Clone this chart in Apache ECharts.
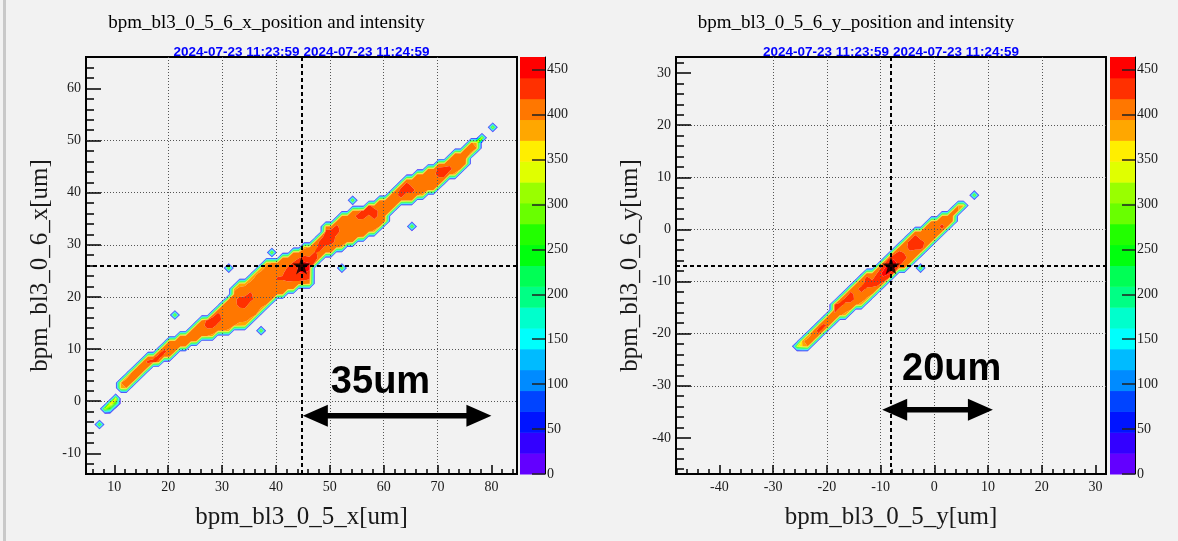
<!DOCTYPE html>
<html>
<head>
<meta charset="utf-8">
<title>bpm_bl3_0_5_6 position and intensity</title>
<script src="https://cdn.jsdelivr.net/npm/echarts@6.0.0/dist/echarts.min.js"></script>
<style>
  html, body { margin: 0; padding: 0; background: #f2f2f2; }
  #chart { width: 1178px; height: 541px; }
</style>
</head>
<body>
<div id="chart"></div>
<script>
// ---------------------------------------------------------------------------
// Text
const plotTitles = ['bpm_bl3_0_5_6_x_position and intensity', 'bpm_bl3_0_5_6_y_position and intensity'];
const timeWindow = '2024-07-23 11:23:59 2024-07-23 11:24:59';
const xTitles = ['bpm_bl3_0_5_x[um]', 'bpm_bl3_0_5_y[um]'];
const yTitles = ['bpm_bl3_0_6_x[um]', 'bpm_bl3_0_6_y[um]'];

// Histogram ranges (80 x 80 bins of 1 um, centred on the mean beam position)
const nBins = 80;
const xRangeX = [4.75, 84.75];
const yRangeX = [-13.97, 66.03];
const xRangeY = [-48.06, 31.94];
const yRangeY = [-46.93, 33.07];
const meanX = [44.75, 26.03];
const meanY = [-8.06, -6.93];

// Tick labels
const xTicksX = [10, 20, 30, 40, 50, 60, 70, 80];
const yTicksX = [-10, 0, 10, 20, 30, 40, 50, 60];
const xTicksY = [-40, -30, -20, -10, 0, 10, 20, 30];
const yTicksY = [-40, -30, -20, -10, 0, 10, 20, 30];
const zTicks = [0, 50, 100, 150, 200, 250, 300, 350, 400, 450];

// Intensity scale: 20 contour levels from 0 to zMax
const zMax = 464;
const levelColors = ['#6300ff', '#3300ff', '#0014ff', '#0044ff', '#008bff', '#00bbff', '#00fffc',
  '#00ffcc', '#00ff85', '#00ff55', '#00ff0e', '#22ff00', '#69ff00', '#99ff00', '#e0ff00',
  '#ffee00', '#ffa700', '#ff7700', '#ff3000', '#ff0000'];

// Bin contents, one entry per run of filled bins: [x bin, first y bin, contents]
const binsX = [
  [2, 9, [320]],
  [3, 12, [330]],
  [4, 12, [250, 370]],
  [5, 13, [260, 360]],
  [6, 16, [380, 395]],
  [7, 16, [395, 405, 390]],
  [8, 17, [400, 410, 395]],
  [9, 18, [400, 408, 400]],
  [10, 19, [400, 410, 405]],
  [11, 20, [395, 425, 400]],
  [12, 21, [430, 405]],
  [13, 21, [405, 430, 400]],
  [14, 22, [405, 428, 395]],
  [15, 22, [395, 408, 410, 400]],
  [16, 23, [405, 410, 400]],
  [16, 30, [320]],
  [17, 24, [408, 410, 400]],
  [18, 24, [400, 410, 405]],
  [19, 25, [405, 412, 400]],
  [20, 25, [395, 410, 408, 400]],
  [21, 26, [400, 410, 405, 395]],
  [22, 26, [395, 408, 430, 425]],
  [23, 26, [390, 405, 430, 435, 405]],
  [24, 27, [400, 410, 428, 430, 400]],
  [25, 27, [395, 408, 410, 405, 400, 395]],
  [26, 27, [390, 405, 410, 408, 410, 405, 395]],
  [26, 39, [320]],
  [27, 28, [395, 405, 410, 412, 405, 410, 400, 390]],
  [28, 28, [385, 400, 408, 410, 430, 428, 405, 400, 385]],
  [29, 28, [380, 400, 405, 410, 435, 430, 410, 400, 390]],
  [30, 29, [390, 400, 410, 405, 428, 425, 408, 400, 385]],
  [31, 30, [395, 405, 410, 408, 405, 412, 405, 400, 390]],
  [32, 31, [390, 400, 405, 410, 408, 410, 405, 400, 385]],
  [32, 27, [320]],
  [33, 32, [395, 405, 410, 408, 412, 410, 405, 400, 390]],
  [34, 33, [400, 408, 405, 410, 408, 405, 400, 395]],
  [34, 42, [320]],
  [35, 34, [400, 410, 412, 420, 410, 405, 395]],
  [36, 34, [395, 405, 412, 420, 415, 410, 405, 395]],
  [37, 35, [400, 412, 425, 430, 420, 410, 400]],
  [38, 35, [400, 410, 425, 435, 430, 420, 405, 395]],
  [39, 36, [410, 425, 440, 445, 435, 415, 400]],
  [40, 36, [405, 425, 440, 450, 445, 425, 405, 390]],
  [41, 36, [400, 420, 435, 445, 440, 420, 405, 395]],
  [42, 40, [415, 430, 420, 408, 395]],
  [43, 41, [405, 412, 430, 428, 400]],
  [44, 42, [400, 410, 432, 435, 428, 395]],
  [45, 42, [395, 405, 428, 435, 430, 400]],
  [46, 43, [400, 410, 412, 430, 425, 395]],
  [47, 43, [390, 405, 410, 408, 405, 400, 395]],
  [47, 39, [320]],
  [48, 44, [400, 408, 410, 412, 405, 400]],
  [49, 44, [395, 405, 410, 412, 408, 405, 395]],
  [49, 52, [320]],
  [50, 45, [400, 410, 405, 410, 430, 400]],
  [51, 45, [395, 405, 412, 408, 432, 428]],
  [52, 46, [400, 410, 408, 412, 435, 425]],
  [53, 46, [390, 405, 410, 430, 432, 400]],
  [54, 47, [395, 408, 410, 410, 405, 395]],
  [55, 48, [400, 410, 408, 405, 400]],
  [56, 50, [405, 410, 408, 400]],
  [57, 51, [400, 412, 410, 395]],
  [58, 52, [405, 430, 428, 400]],
  [59, 52, [395, 405, 432, 430, 400]],
  [60, 52, [400, 410, 428, 410, 395]],
  [60, 47, [320]],
  [61, 53, [395, 408, 412, 405, 400]],
  [62, 53, [390, 405, 410, 408, 395]],
  [63, 54, [400, 410, 405, 412, 400]],
  [64, 54, [395, 405, 410, 410, 400]],
  [65, 55, [400, 408, 430, 428, 395]],
  [66, 56, [405, 432, 430, 400]],
  [67, 57, [400, 428, 410, 395]],
  [68, 57, [390, 405, 410, 408, 400]],
  [69, 58, [400, 410, 408, 395]],
  [70, 59, [395, 405, 410, 400]],
  [71, 61, [390, 408, 400]],
  [72, 62, [395, 380]],
  [73, 64, [340]],
  [75, 66, [330]]
];

const binsY = [
  [22, 24, [330]],
  [23, 24, [370, 390]],
  [24, 24, [395, 405, 380]],
  [25, 25, [400, 410, 395]],
  [26, 26, [405, 430, 400]],
  [27, 27, [400, 428, 395]],
  [28, 28, [405, 410, 400]],
  [29, 29, [395, 410, 430, 425]],
  [30, 30, [400, 408, 430, 395]],
  [31, 30, [385, 405, 410, 428, 395]],
  [32, 31, [395, 408, 430, 432, 400]],
  [33, 32, [400, 410, 405, 412, 395]],
  [34, 32, [385, 405, 410, 430, 405, 395]],
  [35, 33, [390, 405, 412, 432, 428, 400]],
  [36, 34, [400, 410, 430, 412, 395]],
  [37, 35, [405, 425, 435, 420, 400]],
  [38, 36, [410, 435, 450, 430, 405]],
  [39, 37, [420, 445, 460, 440, 410]],
  [40, 38, [420, 450, 455, 435, 405]],
  [41, 39, [410, 430, 440, 425, 400]],
  [42, 39, [395, 410, 425, 415, 405, 395]],
  [43, 40, [400, 408, 412, 430, 428, 395]],
  [44, 41, [395, 405, 430, 435, 428, 400]],
  [45, 42, [400, 432, 430, 405, 395]],
  [45, 39, [320]],
  [46, 43, [405, 412, 410, 410, 400]],
  [47, 44, [395, 408, 410, 405, 395]],
  [48, 45, [400, 410, 408, 400]],
  [49, 46, [405, 428, 405, 395]],
  [50, 47, [400, 410, 400]],
  [51, 48, [395, 405, 400]],
  [52, 50, [400, 395]],
  [53, 51, [380]],
  [55, 53, [320]]
];

// Beam size annotations
const spanLabels = ['35um', '20um'];
const spanFrom = [45, -9.7];
const spanTo = [80, 10.9];
const spanLevel = [-2.8, -34.6];
const spanLabelAt = [[50.2, -0.1], [-6.0, -30.5]];

// ---------------------------------------------------------------------------
const SERIF = "'Liberation Serif', 'Times New Roman', serif";
const SANS = "'Liberation Sans', Arial, sans-serif";

function fillGrid(runs) {
  const z = [];
  for (let i = 0; i < nBins; i++) z.push(new Array(nBins).fill(0));
  runs.forEach(([i, j0, vals]) => vals.forEach((v, k) => { z[i][j0 + k] = v; }));
  return z;
}

// keep the part of a polygon (vertices [x, y, z]) on one side of z = lv,
// with z varying linearly along each edge
function clipPoly(poly, lv, keepAbove) {
  const out = [];
  for (let n = 0; n < poly.length; n++) {
    const p = poly[n], q = poly[(n + 1) % poly.length];
    const pin = keepAbove ? p[2] >= lv : p[2] <= lv;
    const qin = keepAbove ? q[2] >= lv : q[2] <= lv;
    if (pin) out.push(p);
    if (pin !== qin) {
      const t = (lv - p[2]) / (q[2] - p[2]);
      out.push([p[0] + t * (q[0] - p[0]), p[1] + t * (q[1] - p[1]), lv]);
    }
  }
  return out;
}

// filled contours on the grid of bin centres, one compound path per level band
function contourRenderer(z, x0, y0) {
  return function (params, api) {
    const nb = levelColors.length, step = zMax / nb;
    const paths = levelColors.map(() => []);
    const px = p => { const c = api.coord([p[0], p[1]]); return c[0].toFixed(2) + ',' + c[1].toFixed(2); };
    for (let i = 0; i < z.length - 1; i++) {
      for (let j = 0; j < z[i].length - 1; j++) {
        const a = z[i][j], b = z[i + 1][j], c = z[i + 1][j + 1], d = z[i][j + 1];
        if (!(a || b || c || d)) continue;
        const xc = x0 + i + 0.5, yc = y0 + j + 0.5;
        const cell = [[xc, yc, a], [xc + 1, yc, b], [xc + 1, yc + 1, c], [xc, yc + 1, d]];
        const lo = Math.min(a, b, c, d), hi = Math.max(a, b, c, d);
        for (let k = 1; k < nb; k++) {
          const l0 = k * step, l1 = k === nb - 1 ? Infinity : (k + 1) * step;
          if (hi < l0 || lo >= l1) continue;
          let poly = clipPoly(cell, l0, true);
          if (l1 !== Infinity) poly = clipPoly(poly, l1, false);
          if (poly.length < 3) continue;
          paths[k].push('M' + poly.map(px).join('L') + 'Z');
        }
      }
    }
    const children = [];
    paths.forEach((arr, k) => {
      if (arr.length) children.push({ type: 'path', shape: { pathData: arr.join('') }, style: { fill: levelColors[k] } });
    });
    return { type: 'group', children };
  };
}

function paletteRenderer(params, api) {
  const k = params.dataIndex, step = zMax / levelColors.length;
  const p0 = api.coord([0, k * step]);
  const p1 = api.coord([1, (k + 1) * step]);
  return { type: 'rect', shape: { x: p0[0], y: p1[1], width: p1[0] - p0[0], height: p0[1] - p1[1] + 0.5 },
           style: { fill: levelColors[k] } };
}

// double-headed arrow with its label
function spanRenderer(params, api) {
  const a = api.coord([api.value(0), api.value(2)]);
  const b = api.coord([api.value(1), api.value(2)]);
  const t = api.coord([api.value(3), api.value(4)]);
  const head = 25, half = 11, shaft = 2.8, y = a[1];
  const pts = [[a[0], y], [a[0] + head, y - half], [a[0] + head, y - shaft], [b[0] - head, y - shaft],
    [b[0] - head, y - half], [b[0], y], [b[0] - head, y + half], [b[0] - head, y + shaft],
    [a[0] + head, y + shaft], [a[0] + head, y + half]];
  return { type: 'group', children: [
    { type: 'polygon', shape: { points: pts }, style: { fill: '#000' } },
    { type: 'text', x: t[0], y: t[1], style: { text: spanLabels[api.value(5)],
      font: 'bold 38px ' + SANS, fill: '#000', textAlign: 'left', textVerticalAlign: 'bottom', align: 'left', verticalAlign: 'bottom' } }
  ] };
}

const starPath = 'path://M50,0 L61,35 L98,35 L68,57 L79,91 L50,70 L21,91 L32,57 L2,35 L39,35 Z';

function minorValues(range, step, major) {
  const out = [];
  for (let v = Math.ceil(range[0] / step) * step; v <= range[1]; v += step) {
    if (Math.abs(v % major) > 1e-6) out.push(v);
  }
  return out;
}

const frames = [
  { left: 86, top: 57, width: 431, height: 417 },
  { left: 676, top: 57, width: 430, height: 417 }
];
const bars = [
  { left: 520, top: 57, width: 25, height: 417 },
  { left: 1110, top: 57, width: 25, height: 417 }
];

const plots = [
  { xr: xRangeX, yr: yRangeX, xt: xTicksX, yt: yTicksX, mean: meanX, bins: binsX },
  { xr: xRangeY, yr: yRangeY, xt: xTicksY, yt: yTicksY, mean: meanY, bins: binsY }
];

const grid = [], xAxis = [], yAxis = [], series = [], graphic = [];
const tickLabel = { fontFamily: SERIF, fontSize: 14, color: '#1a1a1a' };
const noLine = { show: false, onZero: false };

graphic.push({ type: 'rect', shape: { x: 3, y: 0, width: 3, height: 541 }, style: { fill: '#c9c9c9' }, silent: true });

plots.forEach((p, n) => {
  const f = frames[n], bar = bars[n];
  grid.push(Object.assign({ show: true, borderColor: '#000', borderWidth: 2, backgroundColor: 'transparent',
    containLabel: false, outerBoundsMode: 'none' }, f));
  grid.push(Object.assign({ show: false, containLabel: false, outerBoundsMode: 'none' }, bar));
  const g = 2 * n;
  // main axes
  xAxis.push({ gridIndex: g, type: 'value', position: 'bottom', min: p.xr[0], max: p.xr[1],
    minInterval: 10, maxInterval: 10, splitNumber: 8, z: 3,
    axisLine: noLine,
    axisTick: { show: true, inside: true, length: 9, customValues: p.xt, lineStyle: { color: '#000', width: 1.5 } },
    axisLabel: Object.assign({ margin: 6, customValues: p.xt }, tickLabel),
    splitLine: { show: true, showMinLine: false, showMaxLine: false, lineStyle: { color: '#555', width: 1, type: [1, 2] } } });
  yAxis.push({ gridIndex: g, type: 'value', position: 'left', min: p.yr[0], max: p.yr[1],
    minInterval: 10, maxInterval: 10, splitNumber: 8, z: 3,
    axisLine: noLine,
    axisTick: { show: true, inside: true, length: 15, customValues: p.yt, lineStyle: { color: '#000', width: 1.5 } },
    axisLabel: Object.assign({ margin: 5, customValues: p.yt }, tickLabel),
    splitLine: { show: true, showMinLine: false, showMaxLine: false, lineStyle: { color: '#555', width: 1, type: [1, 2] } } });
  // minor ticks every 2 um
  xAxis.push({ gridIndex: g, type: 'value', position: 'bottom', min: p.xr[0], max: p.xr[1], z: 3,
    axisLine: noLine, axisLabel: { show: false }, splitLine: { show: false },
    axisTick: { show: true, inside: true, length: 5, customValues: minorValues(p.xr, 2, 10), lineStyle: { color: '#000', width: 1.5 } } });
  yAxis.push({ gridIndex: g, type: 'value', position: 'left', min: p.yr[0], max: p.yr[1], z: 3,
    axisLine: noLine, axisLabel: { show: false }, splitLine: { show: false },
    axisTick: { show: true, inside: true, length: 8, customValues: minorValues(p.yr, 2, 10), lineStyle: { color: '#000', width: 1.5 } } });
  // colour scale
  xAxis.push({ gridIndex: g + 1, type: 'value', min: 0, max: 1, show: false, axisLine: noLine });
  yAxis.push({ gridIndex: g + 1, type: 'value', position: 'right', min: 0, max: zMax, interval: 50, z: 3,
    axisLine: { show: true, onZero: false, lineStyle: { color: '#000', width: 1 } },
    axisTick: { show: true, inside: true, length: 13, customValues: zTicks, lineStyle: { color: '#222', width: 1.5 } },
    axisLabel: Object.assign({ margin: 2, customValues: zTicks }, tickLabel),
    splitLine: { show: false } });

  const ax = 3 * n;
  series.push({ type: 'custom', xAxisIndex: ax, yAxisIndex: ax, z: 2, clip: true, silent: true,
    data: [p.mean], renderItem: contourRenderer(fillGrid(p.bins), p.xr[0], p.yr[0]) });
  series.push({ type: 'custom', xAxisIndex: ax + 2, yAxisIndex: ax + 2, z: 2, silent: true,
    data: levelColors.map((c, k) => [0.5, k]), renderItem: paletteRenderer });
  series.push({ type: 'scatter', xAxisIndex: ax, yAxisIndex: ax, z: 6, silent: true,
    data: [p.mean], symbol: starPath, symbolSize: [18, 18], itemStyle: { color: '#000' },
    markLine: { silent: true, symbol: 'none', z: 5, label: { show: false },
      lineStyle: { color: '#000', width: 2, type: [4, 3] },
      data: [{ xAxis: p.mean[0] }, { yAxis: p.mean[1] }] } });
  series.push({ type: 'custom', xAxisIndex: ax, yAxisIndex: ax, z: 7, silent: true, clip: false,
    data: [[spanFrom[n], spanTo[n], spanLevel[n], spanLabelAt[n][0], spanLabelAt[n][1], n]],
    renderItem: spanRenderer });

  const cx = f.left + f.width / 2, cy = f.top + f.height / 2;
  graphic.push({ type: 'text', x: cx - 35, y: 23, silent: true,
    style: { text: plotTitles[n], font: '19px ' + SERIF, fill: '#000', textAlign: 'center', textVerticalAlign: 'middle', align: 'center', verticalAlign: 'middle' } });
  graphic.push({ type: 'text', x: cx, y: 52, silent: true,
    style: { text: timeWindow, font: 'bold 13.5px ' + SANS, fill: '#0000ff', textAlign: 'center', textVerticalAlign: 'middle', align: 'center', verticalAlign: 'middle' } });
  graphic.push({ type: 'text', x: cx, y: 517, silent: true,
    style: { text: xTitles[n], font: '25px ' + SERIF, fill: '#1a1a1a', textAlign: 'center', textVerticalAlign: 'middle', align: 'center', verticalAlign: 'middle' } });
  graphic.push({ type: 'text', x: f.left - 46, y: cy, rotation: Math.PI / 2, silent: true,
    style: { text: yTitles[n], font: '25px ' + SERIF, fill: '#1a1a1a', textAlign: 'center', textVerticalAlign: 'middle', align: 'center', verticalAlign: 'middle' } });
});

const chart = echarts.init(document.getElementById('chart'), null, { renderer: 'canvas' });
chart.setOption({
  backgroundColor: '#f2f2f2',
  animation: false,
  textStyle: { fontFamily: SERIF },
  grid, xAxis, yAxis, series, graphic
});
</script>
</body>
</html>
